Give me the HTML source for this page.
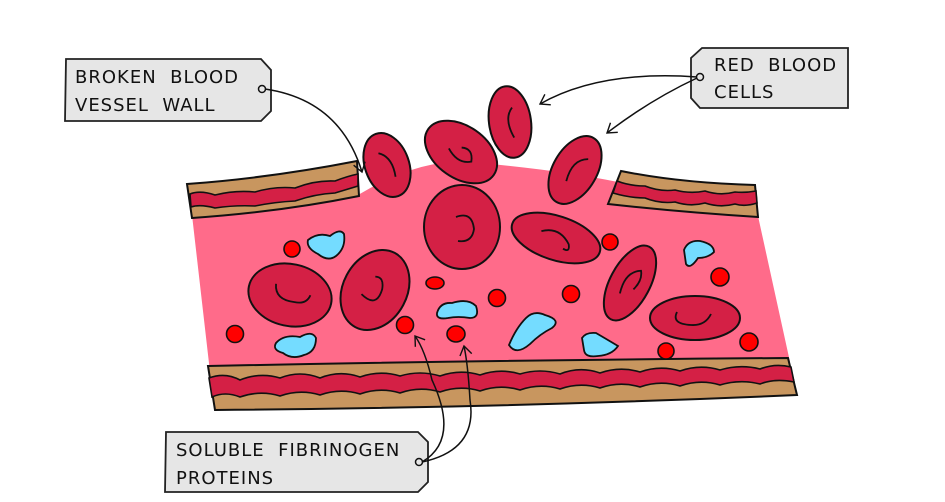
<!DOCTYPE html>
<html><head><style>
html,body{margin:0;padding:0;background:#fff;}
svg{display:block}
text{font-family:"DejaVu Sans","Liberation Sans",sans-serif;font-size:18px;fill:#111;letter-spacing:1px}
</style></head><body>
<svg width="945" height="502" viewBox="0 0 945 502" xmlns="http://www.w3.org/2000/svg">
<defs>
<marker id="ah" markerWidth="14" markerHeight="14" refX="10" refY="7" orient="auto" markerUnits="userSpaceOnUse">
<path d="M1,1 L10,7 L1,13" fill="none" stroke="#111" stroke-width="1.4"/>
</marker>
</defs>
<g stroke="#111" stroke-width="2">
<path d="M192,215 L358,195 Q420,158 470,162 Q560,170 618,182 L612,205 L758,216 L790,362 L210,372 Z" fill="#ff6b8a" stroke="none"/>
<path d="M187,184 Q270,178 357,161 L359,196 Q280,212 192,218 Z" fill="#c8965f"/>
<path d="M190,194 Q200,190 215,195 Q235,190 255,192 Q275,186 295,188 Q315,180 335,181 Q348,176 358,174 L358,186 Q345,190 335,193 Q315,194 295,201 Q275,202 255,206 Q235,205 215,208 Q200,204 191,207 Z" fill="#d42045" stroke-width="1.6"/>
<path d="M621,171 Q680,183 755,185 L758,217 Q680,212 608,204 Z" fill="#c8965f"/>
<path d="M617,181 Q630,186 645,186 Q660,192 675,190 Q690,194 705,191 Q720,196 735,192 Q745,193 756,191 L757,203 Q745,207 735,204 Q720,208 705,203 Q690,207 675,202 Q660,204 645,198 Q630,198 613,193 Z" fill="#d42045" stroke-width="1.6"/>
<path d="M208,366 Q500,360 788,358 L797,395 Q500,408 215,410 Z" fill="#c8965f"/>
<path d="M209,378 Q225,372 240,380 Q260,372 280,378 Q300,370 320,378 Q340,370 360,377 Q380,370 400,376 Q420,370 440,376 Q460,369 480,375 Q500,368 520,374 Q540,368 560,374 Q580,366 600,373 Q620,366 640,372 Q660,365 680,371 Q700,364 720,370 Q740,364 760,369 Q775,363 791,367 L794,382 Q775,378 760,384 Q740,379 720,385 Q700,379 680,386 Q660,380 640,387 Q620,381 600,388 Q580,382 560,389 Q540,383 520,390 Q500,384 480,391 Q460,385 440,392 Q420,386 400,393 Q380,387 360,394 Q340,388 320,395 Q300,389 280,396 Q260,390 240,397 Q225,391 212,397 Z" fill="#d42045" stroke-width="1.6"/>
<g fill="#74dcff" stroke-width="1.8">
<path d="M308,240 Q318,232 330,236 Q340,228 344,234 Q346,248 336,256 Q328,262 318,254 Q306,248 308,240 Z"/>
<path d="M276,343 Q284,334 300,337 Q312,330 316,338 Q316,352 304,355 Q292,360 283,353 Q272,350 276,343 Z"/>
<path d="M437,313 Q440,302 452,303 Q468,298 476,306 Q480,318 470,318 Q458,316 448,318 Q436,320 437,313 Z"/>
<path d="M509,345 Q516,328 526,318 Q534,310 545,315 Q562,320 552,328 Q540,334 530,344 Q516,356 509,345 Z"/>
<path d="M582,338 Q586,332 596,333 Q608,340 618,346 Q612,355 598,356 Q585,358 584,350 Z"/>
<path d="M684,250 Q688,240 700,241 Q714,244 714,252 Q708,258 698,258 Q690,270 686,264 Z"/>
</g>
<g fill="#ff0000" stroke-width="1.6">
<circle cx="292" cy="249" r="8"/><circle cx="235" cy="334" r="8.5"/><circle cx="405" cy="325" r="8.5"/>
<ellipse cx="435" cy="283" rx="9" ry="6"/><ellipse cx="456" cy="334" rx="9" ry="8"/>
<circle cx="497" cy="298" r="8.5"/><circle cx="571" cy="294" r="8.5"/><circle cx="610" cy="242" r="8"/>
<circle cx="720" cy="277" r="9"/><circle cx="666" cy="351" r="8"/><circle cx="749" cy="342" r="9"/>
</g>
<g fill="#d42045" stroke-width="2">
<g transform="translate(387,165) rotate(-20)"><ellipse rx="22" ry="33"/><path d="M-4,-14 Q8,-6 4,14" fill="none" stroke-width="1.8"/></g>
<g transform="translate(461,152) rotate(35)"><ellipse rx="40" ry="26"/><path d="M-12,4 Q4,12 14,2 Q8,-10 -2,-4" fill="none" stroke-width="1.8"/></g>
<g transform="translate(510,122) rotate(-8)"><ellipse rx="21" ry="36"/><path d="M4,-14 Q-6,-4 2,16" fill="none" stroke-width="1.8"/></g>
<g transform="translate(575,170) rotate(30)"><ellipse rx="22" ry="37"/><path d="M6,-16 Q-8,-8 -2,14" fill="none" stroke-width="1.8"/></g>
<g transform="translate(462,227)"><ellipse rx="38" ry="42"/><path d="M-6,-10 Q10,-16 12,2 Q10,16 -4,14" fill="none" stroke-width="1.8"/></g>
<g transform="translate(556,238) rotate(18)"><ellipse rx="46" ry="22"/><path d="M-16,-2 Q0,-12 14,2 Q18,10 10,8" fill="none" stroke-width="1.8"/></g>
<g transform="translate(290,295) rotate(12)"><ellipse rx="42" ry="31"/><path d="M-16,-8 Q-14,8 6,6 Q18,6 20,-4" fill="none" stroke-width="1.8"/></g>
<g transform="translate(375,290) rotate(28)"><ellipse rx="32" ry="42"/><path d="M-10,10 Q10,16 6,-4 Q2,-16 -6,-12" fill="none" stroke-width="1.8"/></g>
<g transform="translate(630,283) rotate(28)"><ellipse rx="20" ry="41"/><path d="M-4,14 Q-10,-8 4,-16 Q10,-8 6,4" fill="none" stroke-width="1.8"/></g>
<g transform="translate(695,318)"><ellipse rx="45" ry="22"/><path d="M-18,-6 Q-24,6 -4,7 Q10,8 16,-4" fill="none" stroke-width="1.8"/></g>
</g>
<g fill="#e6e6e6" stroke="#222" stroke-width="1.8">
<path d="M66,59 L261,59 L271,70 L271,111 L261,121 L65,121 Z"/>
<path d="M702,48 L848,48 L848,108 L700,108 L691,98 L691,58 Z"/>
<path d="M166,432 L418,432 L428,442 L428,482 L418,492 L165,492 Z"/>
</g>
<g fill="none" stroke="#111" stroke-width="1.5">
<circle cx="262" cy="89" r="3.5"/>
<circle cx="700" cy="77" r="3.5"/>
<circle cx="419" cy="462" r="3.5"/>
<path d="M265,89 Q340,100 362,172" marker-end="url(#ah)"/>
<path d="M697,77 Q600,70 540,104" marker-end="url(#ah)"/>
<path d="M697,78 Q650,100 607,133" marker-end="url(#ah)"/>
<path d="M422,462 Q460,440 432,380 Q425,350 415,336" marker-end="url(#ah)"/>
<path d="M422,462 Q478,450 470,400 Q468,365 464,346" marker-end="url(#ah)"/>
</g>
</g>
<text x="75" y="83">BROKEN&#160;&#160;BLOOD</text>
<text x="75" y="111">VESSEL&#160;&#160;WALL</text>
<text x="714" y="71">RED&#160;&#160;BLOOD</text>
<text x="714" y="98">CELLS</text>
<text x="176" y="456">SOLUBLE&#160;&#160;FIBRINOGEN</text>
<text x="176" y="484">PROTEINS</text>
</svg>
</body></html>
